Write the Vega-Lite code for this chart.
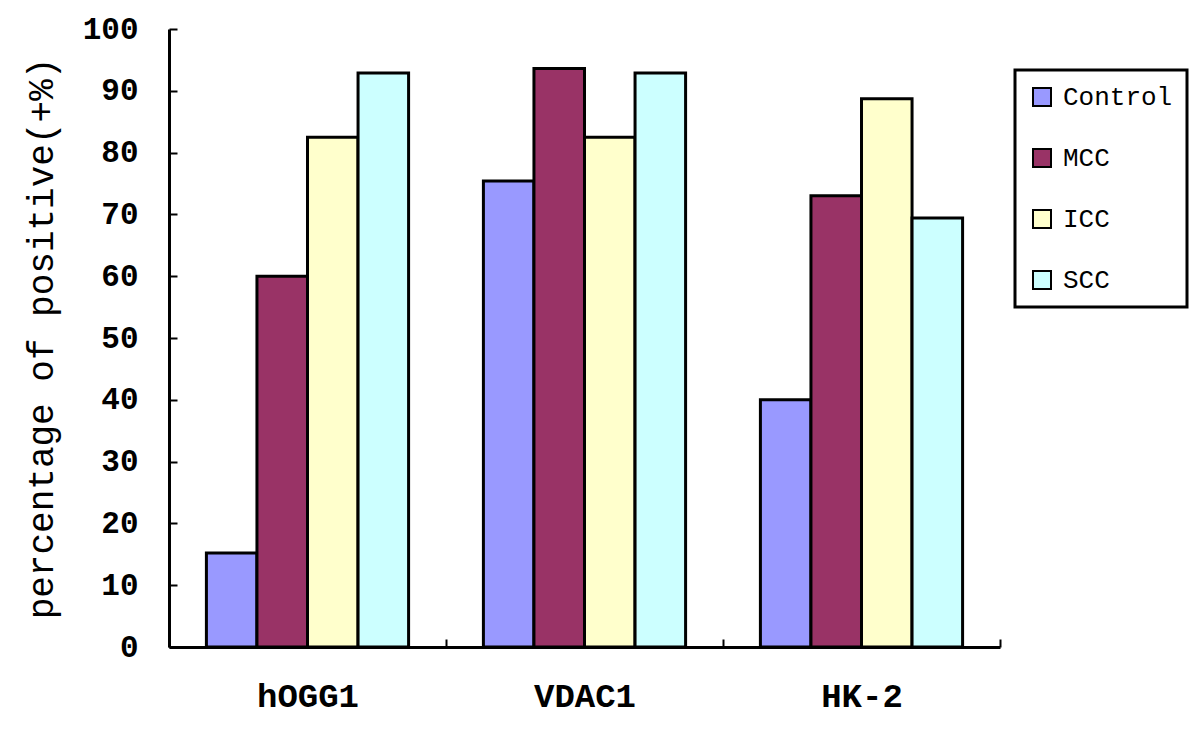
{
  "$schema": "https://vega.github.io/schema/vega-lite/v6.json",
  "autosize": "none",
  "padding": {"left": 169, "top": 29, "right": 200, "bottom": 96},
  "width": 831,
  "height": 618,
  "background": "white",
  "data": {
    "values": [
      {"gene": "hOGG1", "group": "Control", "pct": 15.2},
      {"gene": "hOGG1", "group": "MCC", "pct": 60},
      {"gene": "hOGG1", "group": "ICC", "pct": 82.5},
      {"gene": "hOGG1", "group": "SCC", "pct": 92.9},
      {"gene": "VDAC1", "group": "Control", "pct": 75.4},
      {"gene": "VDAC1", "group": "MCC", "pct": 93.6},
      {"gene": "VDAC1", "group": "ICC", "pct": 82.5},
      {"gene": "VDAC1", "group": "SCC", "pct": 92.9},
      {"gene": "HK-2", "group": "Control", "pct": 40},
      {"gene": "HK-2", "group": "MCC", "pct": 73},
      {"gene": "HK-2", "group": "ICC", "pct": 88.7},
      {"gene": "HK-2", "group": "SCC", "pct": 69.4}
    ]
  },
  "mark": {"type": "bar", "stroke": "black", "strokeWidth": 3},
  "encoding": {
    "x": {
      "field": "gene",
      "type": "nominal",
      "sort": ["hOGG1", "VDAC1", "HK-2"],
      "scale": {"paddingInner": 0, "paddingOuter": 0},
      "axis": {
        "title": null,
        "labelAngle": 0,
        "labelFont": "Liberation Mono",
        "labelFontWeight": "bold",
        "labelFontSize": 34,
        "labelColor": "black",
        "labelPadding": 40,
        "tickBand": "extent",
        "tickSize": -8,
        "tickColor": "black",
        "tickWidth": 2,
        "domainColor": "black",
        "domainWidth": 3
      }
    },
    "xOffset": {
      "field": "group",
      "type": "nominal",
      "sort": ["Control", "MCC", "ICC", "SCC"],
      "scale": {"paddingInner": 0, "paddingOuter": 0.74}
    },
    "y": {
      "field": "pct",
      "type": "quantitative",
      "scale": {"domain": [0, 100], "nice": false},
      "axis": {
        "title": "percentage of positive(+%)",
        "titleFont": "Liberation Mono",
        "titleFontSize": 36,
        "titleFontWeight": "normal",
        "titleColor": "black",
        "titlePadding": 22,
        "values": [0, 10, 20, 30, 40, 50, 60, 70, 80, 90, 100],
        "grid": false,
        "labelFont": "Liberation Mono",
        "labelFontWeight": "bold",
        "labelFontSize": 31,
        "labelColor": "black",
        "labelPadding": 39,
        "tickSize": -8,
        "tickColor": "black",
        "tickWidth": 2,
        "domainColor": "black",
        "domainWidth": 3
      }
    },
    "color": {
      "field": "group",
      "type": "nominal",
      "sort": ["Control", "MCC", "ICC", "SCC"],
      "scale": {
        "domain": ["Control", "MCC", "ICC", "SCC"],
        "range": ["#9999FF", "#993366", "#FFFFCC", "#CCFFFF"]
      },
      "legend": {
        "title": null,
        "orient": "none",
        "legendX": 846,
        "legendY": 41,
        "strokeColor": "black",
        "padding": 14,
        "symbolType": "square",
        "symbolSize": 324,
        "symbolStrokeColor": "black",
        "symbolStrokeWidth": 2,
        "symbolOpacity": 1,
        "labelFont": "Liberation Mono",
        "labelFontSize": 26,
        "labelColor": "black",
        "labelOffset": 8,
        "rowPadding": 35
      }
    }
  },
  "config": {
    "view": {"stroke": null},
    "legend": {"strokeWidth": 3}
  }
}
